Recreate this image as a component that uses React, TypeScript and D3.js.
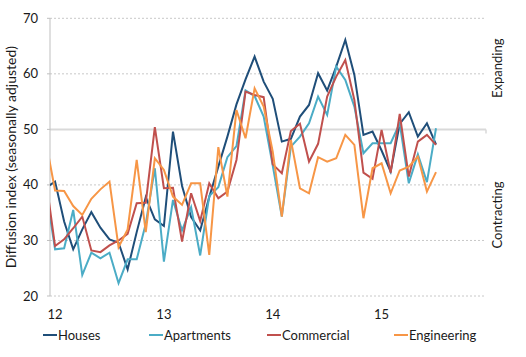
import React from "react";
import * as d3 from "d3";

// Monthly observations, Dec 2011 – Jul 2015
const months: string[] = d3.range(44).map((i) => {
  const d = new Date(2011, 11 + i, 1);
  return d3.timeFormat("%Y-%m")(d);
});

const houses = [39.5, 40.6, 33.4, 28.4, 32.0, 35.1, 32.3, 30.2, 29.6, 24.8, 31.5, 37.8, 33.8, 32.6, 49.6, 39.8, 34.2, 31.8, 37.8, 43.3, 48.7, 54.5, 59.0, 63.1, 58.6, 55.5, 47.8, 48.3, 52.3, 54.4, 60.1, 57.0, 61.3, 66.1, 59.8, 49.0, 49.6, 46.2, 42.4, 51.0, 53.1, 48.7, 51.1, 47.3];
const apartments = [39.0, 28.4, 28.6, 35.5, 23.8, 27.8, 26.8, 27.8, 22.3, 26.6, 26.6, 33.0, 43.0, 26.2, 37.3, 31.8, 36.0, 27.3, 38.0, 39.6, 45.0, 47.0, 57.0, 56.0, 52.3, 43.5, 34.3, 46.9, 48.7, 51.1, 55.9, 52.6, 61.3, 58.9, 54.1, 45.7, 47.5, 47.5, 47.5, 51.1, 40.3, 45.5, 40.5, 50.2];
const commercial = [40.9, 29.0, 30.2, 32.2, 34.3, 28.2, 27.9, 29.1, 30.0, 31.2, 36.7, 36.8, 50.4, 39.4, 39.5, 29.8, 38.5, 33.5, 40.3, 37.6, 38.8, 44.5, 56.8, 56.2, 55.8, 43.7, 42.1, 49.7, 51.0, 44.2, 47.4, 55.9, 59.5, 62.5, 55.3, 42.2, 41.1, 49.9, 42.2, 52.8, 41.5, 47.8, 49.0, 47.2];
const engineering = [47.7, 39.0, 38.9, 36.2, 34.6, 37.5, 39.2, 40.6, 28.8, 32.0, 44.5, 31.5, 44.8, 42.7, 37.9, 36.4, 40.3, 40.3, 27.4, 46.8, 37.9, 53.5, 48.4, 57.4, 54.1, 46.0, 34.3, 48.1, 39.4, 38.5, 45.0, 44.2, 44.8, 49.0, 47.2, 34.0, 43.0, 43.9, 38.5, 42.6, 43.3, 45.1, 38.8, 42.3];

const seriesNames = ["Houses", "Apartments", "Commercial", "Engineering"];
const seriesColors = ["#1f4e79", "#4bacc6", "#c0504d", "#f79646"];
const seriesValues = [houses, apartments, commercial, engineering];

const yTicks = [20, 30, 40, 50, 60, 70];
const yearLabels = ["12", "13", "14", "15"];
const yearMonths = ["2012-01", "2013-01", "2014-01", "2015-01"];
const sideLabels = ["Expanding", "Contracting"];
const sideValues = [61, 34.6];

const W = 526;
const H = 357;
const plotLeft = 50;
const plotRight = 486;
const FONT = "Lato, 'Open Sans', sans-serif";

export default function App() {
  const x = d3.scaleLinear().domain([0, months.length - 1]).range([46, 436]);
  const y = d3.scaleLinear().domain([20, 70]).range([296, 18.3]);
  const line = d3
    .line<number>()
    .x((_, i) => x(i))
    .y((d) => y(d));

  return (
    <svg width={W} height={H} style={{ position: "absolute", left: 0, top: 0, background: "#fff" }}>
      <defs>
        <clipPath id="plotClip">
          <rect x={plotLeft} y={0} width={plotRight - plotLeft} height={H} />
        </clipPath>
      </defs>
      {/* gridlines */}
      {yTicks.map((t) =>
        t === 50 ? (
          <line key={t} x1={plotLeft} x2={plotRight} y1={y(t)} y2={y(t)} stroke="#d9d9d9" strokeWidth={2} />
        ) : (
          <line key={t} x1={plotLeft} x2={plotRight} y1={y(t)} y2={y(t)} stroke="#c8c8c8" strokeWidth={1} strokeDasharray="2,2" />
        )
      )}
      <line x1={plotRight} x2={plotRight} y1={y(50)} y2={y(50) + 4} stroke="#d9d9d9" strokeWidth={1.5} />
      {/* y axis */}
      <line x1={plotLeft} x2={plotLeft} y1={y(70)} y2={y(20)} stroke="#bfbfbf" strokeWidth={1} />
      {yTicks.map((t) => (
        <line key={"tk" + t} x1={plotLeft - 3} x2={plotLeft} y1={y(t)} y2={y(t)} stroke="#bfbfbf" strokeWidth={1} />
      ))}
      {yTicks.map((t) => (
        <text key={"yl" + t} x={38} y={y(t)} dy="0.35em" textAnchor="end" fontFamily={FONT} fontSize={13} fill="#1a1a1a">
          {t}
        </text>
      ))}
      <text
        transform={`translate(12, ${(y(20) + y(70)) / 2}) rotate(-90)`}
        textAnchor="middle"
        dominantBaseline="middle"
        fontFamily={FONT}
        fontSize={14}
        fill="#1a1a1a"
      >
        Diffusion index (seasonally adjusted)
      </text>
      {/* x labels */}
      {yearLabels.map((lab, k) => (
        <text key={lab} x={x(months.indexOf(yearMonths[k]))} y={319} textAnchor="middle" fontFamily={FONT} fontSize={13} fill="#1a1a1a">
          {lab}
        </text>
      ))}
      {/* right side labels */}
      {sideLabels.map((lab, k) => (
        <text
          key={lab}
          transform={`translate(499, ${y(sideValues[k])}) rotate(-90)`}
          textAnchor="middle"
          dominantBaseline="middle"
          fontFamily={FONT}
          fontSize={13}
          fill="#1a1a1a"
        >
          {lab}
        </text>
      ))}
      {/* series */}
      <g clipPath="url(#plotClip)">
        {seriesValues.map((vals, k) => (
          <path key={seriesNames[k]} d={line(vals) || ""} fill="none" stroke={seriesColors[k]} strokeWidth={2} strokeLinejoin="miter" />
        ))}
      </g>
      {/* legend */}
      {seriesNames.map((name, k) => {
        const lx = [43, 149, 267, 394][k];
        return (
          <g key={"lg" + name}>
            <line x1={lx} x2={lx + 14} y1={335} y2={335} stroke={seriesColors[k]} strokeWidth={2} />
            <text x={lx + 15} y={335} dy="0.35em" fontFamily={FONT} fontSize={13} fill="#1a1a1a">
              {name}
            </text>
          </g>
        );
      })}
    </svg>
  );
}
